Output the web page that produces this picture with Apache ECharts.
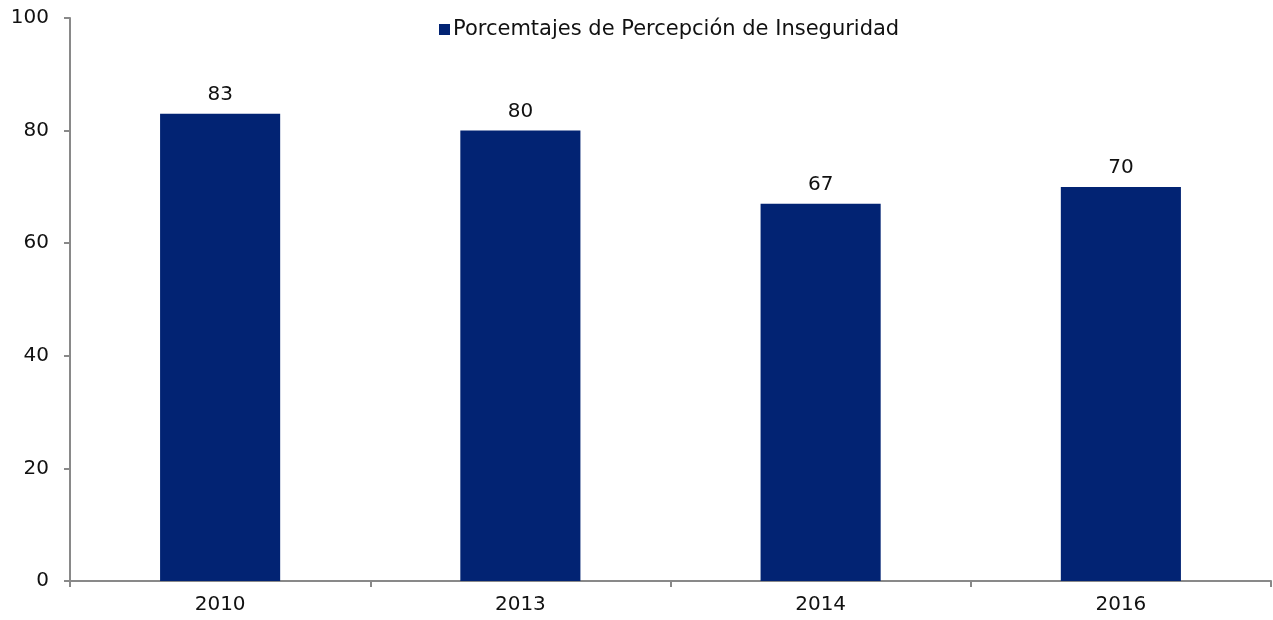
<!DOCTYPE html>
<html lang="es">
<head>
    <meta charset="UTF-8">
    <title>Porcentajes de Percepción de Inseguridad</title>
    <script src="https://cdn.jsdelivr.net/npm/echarts@6.0.0/dist/echarts.min.js"></script>
    <style>
        html, body { margin: 0; padding: 0; background: #fff; }
        #chart { width: 1273px; height: 620px; }
    </style>
</head>
<body>
    <div id="chart"></div>
    <script>
        // datos
        const years = ['2010', '2013', '2014', '2016'];
        const percepcion = [83, 80, 67, 70];
        const seriesName = 'Porcemtajes de Percepción de Inseguridad';

        const chart = echarts.init(document.getElementById('chart'));
        const axisGray = '#898989';

        chart.setOption({
            animation: false,
            textStyle: { fontFamily: 'DejaVu Sans, Arial, sans-serif' },
            legend: {
                data: [seriesName],
                top: 14,
                left: 434,
                itemWidth: 11,
                itemHeight: 11,
                itemGap: 4,
                icon: 'rect',
                textStyle: { fontSize: 21, color: '#111', padding: [0, 0, 0, -2] }
            },
            grid: { left: 70, right: 2, top: 18, bottom: 39 },
            xAxis: {
                type: 'category',
                data: years,
                axisLine: { lineStyle: { color: axisGray, width: 2 } },
                axisTick: { show: true, length: 6, lineStyle: { color: axisGray, width: 2 } },
                axisLabel: { fontSize: 20, color: '#111', margin: 14 }
            },
            yAxis: {
                type: 'value',
                min: 0,
                max: 100,
                interval: 20,
                axisLine: { show: true, lineStyle: { color: axisGray, width: 2 } },
                axisTick: { show: true, length: 6, lineStyle: { color: axisGray, width: 2 } },
                splitLine: { show: false },
                axisLabel: { fontSize: 20, color: '#111', margin: 21 }
            },
            series: [{
                name: seriesName,
                type: 'bar',
                data: percepcion,
                barWidth: '40%',
                itemStyle: { color: '#022373' },
                label: {
                    show: true,
                    position: 'top',
                    distance: 9,
                    fontSize: 20,
                    color: '#111'
                }
            }]
        });
    </script>
</body>
</html>
